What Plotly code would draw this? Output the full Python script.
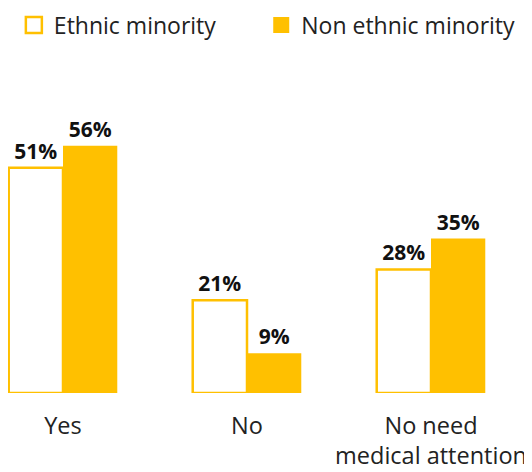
import plotly.graph_objects as go

categories = ["Yes", "No", "No need<br>medical attention"]
ethnic_minority = [51, 21, 28]
non_ethnic_minority = [56, 9, 35]
series_names = ["Ethnic minority", "Non ethnic minority"]

YELLOW = "#FFC000"
FONT = "Open Sans, Noto Sans, sans-serif"
TXT = "#222222"

fig = go.Figure()
fig.add_trace(go.Bar(
    name=series_names[0], x=categories, y=ethnic_minority,
    marker=dict(color="white", line=dict(color=YELLOW, width=2.5)),
    text=[f"{v}%" for v in ethnic_minority], textposition="outside",
    textfont=dict(family=FONT, size=21, color="#111111", weight="bold"),
    cliponaxis=False, showlegend=False, legendgroup="a",
))
fig.add_trace(go.Bar(
    name=series_names[1], x=categories, y=non_ethnic_minority,
    marker=dict(color=YELLOW, line=dict(color=YELLOW, width=0)),
    text=[f"{v}%" for v in non_ethnic_minority], textposition="outside",
    textfont=dict(family=FONT, size=21, color="#111111", weight="bold"),
    cliponaxis=False, showlegend=False, legendgroup="b",
))
# legend entries (larger square swatches)
fig.add_trace(go.Scatter(
    name=series_names[0], x=[None], y=[None], mode="markers",
    marker=dict(symbol="square", size=18, color="white", line=dict(color=YELLOW, width=2.5)),
    legendgroup="a", legend="legend",
))
fig.add_trace(go.Scatter(
    name=series_names[1], x=[None], y=[None], mode="markers",
    marker=dict(symbol="square", size=20, color=YELLOW, line=dict(width=0)),
    legendgroup="b", legend="legend2",
))

leg_common = dict(orientation="h", yanchor="middle", xanchor="left",
                  font=dict(size=23, family=FONT, color=TXT),
                  itemsizing="trace", bgcolor="rgba(0,0,0,0)", borderwidth=0)

fig.update_layout(
    width=532, height=472,
    margin=dict(l=0, r=0, t=76, b=87, autoexpand=False),
    paper_bgcolor="white", plot_bgcolor="white",
    barmode="group", bargap=0.41, bargroupgap=0,
    font=dict(family=FONT, color=TXT, size=20),
    showlegend=True,
    legend=dict(x=0.011, y=1.191, **leg_common),
    legend2=dict(x=0.476, y=1.191, **leg_common),
    xaxis=dict(range=[-0.2989, 2.5924], showgrid=False, zeroline=False, showline=False,
               ticks="", automargin=False, ticklabelstandoff=16,
               tickfont=dict(size=23.5, family=FONT, color=TXT)),
    yaxis=dict(range=[0, 70], visible=False),
)

fig.write_html("out.html")
